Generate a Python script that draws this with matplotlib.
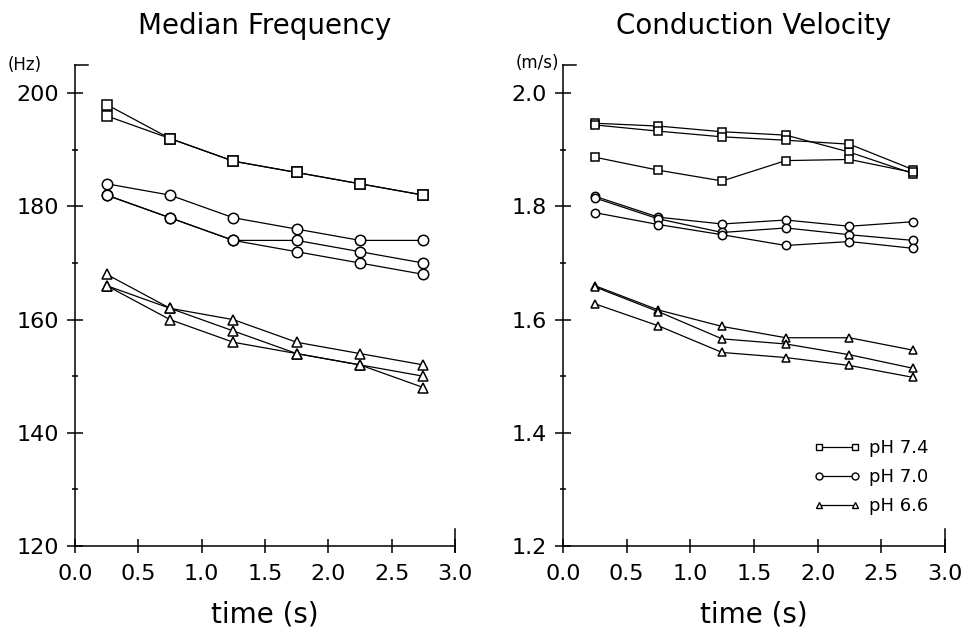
import numpy as np
import matplotlib.pyplot as plt
from matplotlib.lines import Line2D

# time points (s)
times = [0.25, 0.75, 1.25, 1.75, 2.25, 2.75]

# median frequency (Hz), one list per run
mf_ph74 = [[198, 192, 188, 186, 184, 182],
           [196, 192, 188, 186, 184, 182]]
mf_ph70 = [[184, 182, 178, 176, 174, 174],
           [182, 178, 174, 174, 172, 170],
           [182, 178, 174, 172, 170, 168]]
mf_ph66 = [[168, 162, 160, 156, 154, 152],
           [166, 162, 158, 154, 152, 150],
           [166, 160, 156, 154, 152, 148]]

# conduction velocity (m/s)
cv_ph74 = [[1.947, 1.942, 1.932, 1.926, 1.896, 1.858],
           [1.944, 1.933, 1.923, 1.917, 1.910, 1.865],
           [1.887, 1.864, 1.845, 1.881, 1.883, 1.860]]
cv_ph70 = [[1.818, 1.781, 1.769, 1.776, 1.765, 1.773],
           [1.815, 1.778, 1.754, 1.762, 1.750, 1.740],
           [1.789, 1.768, 1.750, 1.731, 1.738, 1.726]]
cv_ph66 = [[1.660, 1.617, 1.588, 1.568, 1.568, 1.546],
           [1.658, 1.614, 1.566, 1.557, 1.538, 1.514],
           [1.628, 1.589, 1.542, 1.533, 1.519, 1.498]]

ph_labels = ['pH 7.4', 'pH 7.0', 'pH 6.6']
markers = ['s', 'o', '^']

plt.rcParams['font.family'] = ['DejaVu Sans']


def style_axis(ax, ylim, major, minor, fmt):
    ax.set_xlim(0, 3.0)
    ax.set_ylim(*ylim)
    ax.spines['top'].set_visible(False)
    ax.spines['right'].set_visible(False)
    for s in ['left', 'bottom']:
        ax.spines[s].set_linewidth(1.1)
    ax.set_xticks(np.arange(0, 3.01, 0.5))
    ax.set_xticklabels(['%.1f' % t for t in np.arange(0, 3.01, 0.5)])
    ax.set_yticks(major)
    ax.set_yticklabels([fmt % v for v in major])
    ax.set_yticks(minor, minor=True)
    ax.tick_params(axis='y', which='major', direction='inout', length=11,
                   width=1.1, labelsize=16, pad=6)
    ax.tick_params(axis='y', which='minor', direction='inout', length=5,
                   width=1.1)
    ax.tick_params(axis='x', which='major', direction='inout', length=10,
                   width=1.1, labelsize=16, pad=8)
    ax.set_xlabel('time (s)', fontsize=20, labelpad=12)
    # end marks: stub at the top of the y axis, tall tick at x = 3.0
    ax.add_line(Line2D([0, 0.034], [1, 1], transform=ax.transAxes,
                       color='black', lw=1.1, clip_on=False))
    ax.add_line(Line2D([1, 1], [-0.0125, 0.035], transform=ax.transAxes,
                       color='black', lw=1.1, clip_on=False))


def draw_group(ax, groups, ms):
    for runs, m in zip(groups, markers):
        for vals in runs:
            ax.plot(times, vals, color='black', lw=0.9, marker=m,
                    ms=ms, mfc='white', mec='black', mew=1.1)


fig = plt.figure(figsize=(9.68, 6.33), dpi=100)
ax1 = fig.add_axes([0.0775, 0.1374, 0.3926, 0.760])
ax2 = fig.add_axes([0.5816, 0.1374, 0.3946, 0.760])

draw_group(ax1, [mf_ph74, mf_ph70, mf_ph66], 7.5)
style_axis(ax1, (120, 205), [120, 140, 160, 180, 200],
           [130, 150, 170, 190], '%d')
ax1.set_title('Median Frequency', fontsize=20, pad=22)

draw_group(ax2, [cv_ph74, cv_ph70, cv_ph66], 6)
style_axis(ax2, (1.2, 2.05), [1.2, 1.4, 1.6, 1.8, 2.0],
           [1.3, 1.5, 1.7, 1.9], '%.1f')
ax2.set_title('Conduction Velocity', fontsize=20, pad=22)

fig.text(0.026, 0.897, '(Hz)', fontsize=12, ha='center', va='center')
fig.text(0.578, 0.900, '(m/s)', fontsize=12, ha='right', va='center')

handles = [Line2D([], [], color='black', lw=0.9, marker=m, ms=5,
                  mfc='white', mec='black', mew=1.0) for m in markers]
ax2.legend(handles, ph_labels, loc='lower right', bbox_to_anchor=(1.0, 0.03),
           frameon=False, numpoints=2, fontsize=13, handlelength=2.6,
           handletextpad=0.5, labelspacing=0.62)

fig.savefig('out.png', dpi=100)
